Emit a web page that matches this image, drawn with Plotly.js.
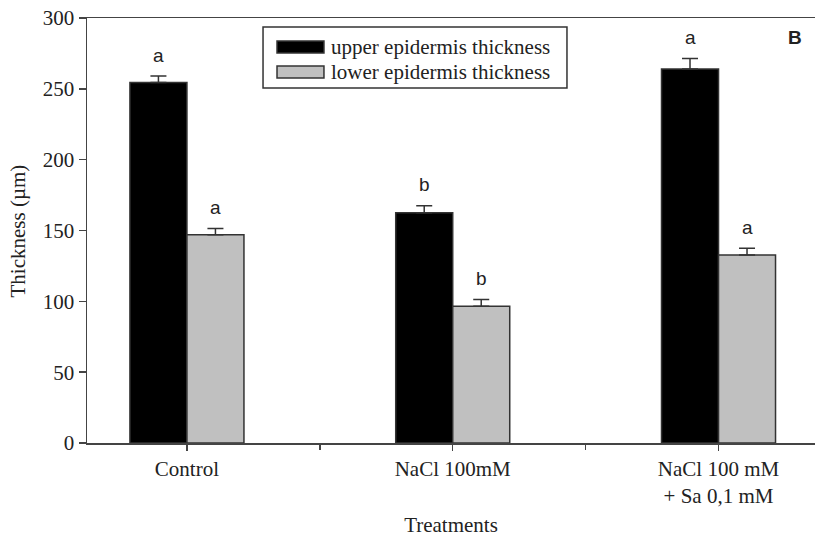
<!DOCTYPE html>
<html>
<head>
<meta charset="utf-8">
<script src="https://cdn.plot.ly/plotly-3.0.1.min.js"></script>
<style>html,body{margin:0;padding:0;background:#fff;}#chart{width:815px;height:537px;}</style>
</head>
<body>
<div id="chart"></div>
<script>
// ---- data ----
var categories = ["Control", "NaCl 100mM", "NaCl 100 mM<br>+ Sa 0,1 mM"];
var seriesNames = ["upper epidermis thickness", "lower epidermis thickness"];
var upperValues = [254.5, 162.5, 264];
var upperErrors = [4.5, 5, 7.5];
var lowerValues = [147, 96.5, 132.7];
var lowerErrors = [4.5, 4.8, 4.7];
var upperLetters = ["a", "b", "a"];
var lowerLetters = ["a", "b", "a"];
var yTickVals = [0, 50, 100, 150, 200, 250, 300];
var minorTickVals = [0.5, 1.5];

var serif = "'Liberation Serif', 'Times New Roman', serif";
var sans = "'Liberation Sans', Arial, sans-serif";
var ink = "#222";
var fs = 21;

var traces = [
  {
    type: "bar", name: seriesNames[0], x: categories, y: upperValues,
    marker: {color: "#000000", line: {color: "#333", width: 1.5}},
    error_y: {type: "data", array: upperErrors, arrayminus: upperErrors.map(function(){return 0;}), symmetric: false, color: "#333", thickness: 1.5, width: 8},
    showlegend: false
  },
  {
    type: "bar", name: seriesNames[1], x: categories, y: lowerValues,
    marker: {color: "#c0c0c0", line: {color: "#333", width: 1.5}},
    error_y: {type: "data", array: lowerErrors, arrayminus: lowerErrors.map(function(){return 0;}), symmetric: false, color: "#333", thickness: 1.5, width: 8},
    showlegend: false
  },
  {
    type: "scatter", mode: "markers", x: minorTickVals, y: [0, 0], xaxis: "x2", yaxis: "y",
    marker: {opacity: 0}, hoverinfo: "skip", showlegend: false
  }
];

var annotations = [];
var groupShift = 28.5;
for (var i = 0; i < categories.length; i++) {
  annotations.push({x: categories[i], y: upperValues[i] + upperErrors[i], xref: "x", yref: "y",
    text: upperLetters[i], showarrow: false, xshift: -groupShift, yshift: 21, yanchor: "middle",
    font: {family: sans, size: 19, color: ink}});
  annotations.push({x: categories[i], y: lowerValues[i] + lowerErrors[i], xref: "x", yref: "y",
    text: lowerLetters[i], showarrow: false, xshift: groupShift, yshift: 21, yanchor: "middle",
    font: {family: sans, size: 19, color: ink}});
}
// legend text
annotations.push({xref: "paper", yref: "paper", x: 0.3324, y: 0.9318, xanchor: "left", yanchor: "middle",
  text: seriesNames[0], showarrow: false, font: {family: serif, size: fs, color: ink}});
annotations.push({xref: "paper", yref: "paper", x: 0.3324, y: 0.8729, xanchor: "left", yanchor: "middle",
  text: seriesNames[1], showarrow: false, font: {family: serif, size: fs, color: ink}});
// panel label
annotations.push({xref: "paper", yref: "paper", x: 0.9725, y: 0.953, xanchor: "center", yanchor: "middle",
  text: "<b>B</b>", showarrow: false, font: {family: sans, size: 19, color: ink}});
// y-axis title
annotations.push({xref: "paper", yref: "paper", x: -0.0948, y: 0.5, xanchor: "center", yanchor: "middle",
  text: "Thickness (µm)", textangle: -90, showarrow: false, font: {family: serif, size: fs, color: ink}});

var shapes = [
  {type: "rect", xref: "paper", yref: "paper", x0: 0.2418, x1: 0.6593, y0: 0.8353, y1: 0.9788,
   line: {color: "#333", width: 1.5}, fillcolor: "rgba(255,255,255,0)"},
  {type: "rect", xref: "paper", yref: "paper", x0: 0.261, x1: 0.3255, y0: 0.9176, y1: 0.9459,
   line: {color: "#333", width: 1.5}, fillcolor: "#000000"},
  {type: "rect", xref: "paper", yref: "paper", x0: 0.261, x1: 0.3255, y0: 0.8588, y1: 0.8871,
   line: {color: "#333", width: 1.5}, fillcolor: "#c0c0c0"}
];

var xRange = [-0.376, 2.363];

var layout = {
  width: 815, height: 537,
  margin: {l: 87, r: 0, t: 18, b: 94},
  paper_bgcolor: "#fff", plot_bgcolor: "#fff",
  barmode: "group", bargap: 0.571, bargroupgap: 0,
  showlegend: false,
  font: {family: serif, size: fs, color: ink},
  xaxis: {
    type: "category", range: xRange, showgrid: false, zeroline: false,
    showline: true, linecolor: "#444", linewidth: 1.5, mirror: true,
    ticks: "outside", ticklen: 6, tickwidth: 1.5, tickcolor: "#444",
    tickfont: {family: serif, size: fs, color: ink},
    title: {text: "Treatments", font: {family: serif, size: fs, color: ink}, standoff: 10},
    automargin: false
  },
  xaxis2: {
    overlaying: "x", type: "linear", range: xRange, showgrid: false, zeroline: false,
    showline: false, tickmode: "array", tickvals: minorTickVals, showticklabels: false,
    ticks: "outside", ticklen: 6, tickwidth: 1.5, tickcolor: "#444", side: "bottom"
  },
  yaxis: {
    range: [0, 300], tickmode: "array", tickvals: yTickVals, showgrid: false, zeroline: false,
    showline: true, linecolor: "#444", linewidth: 1.5,
    ticks: "outside", ticklen: 7, tickwidth: 1.5, tickcolor: "#444",
    tickfont: {family: serif, size: fs, color: ink},
    automargin: false
  },
  annotations: annotations,
  shapes: shapes
};

Plotly.newPlot("chart", traces, layout, {displayModeBar: false, staticPlot: true});
</script>
</body>
</html>
